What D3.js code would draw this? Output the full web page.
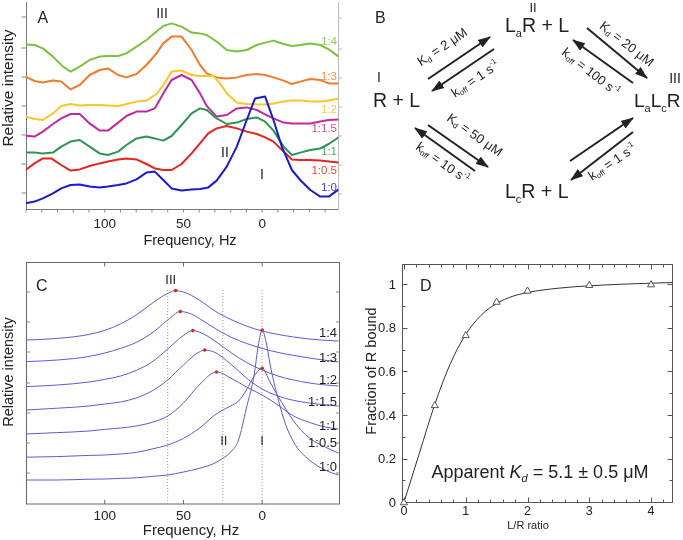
<!DOCTYPE html>
<html><head><meta charset="utf-8">
<script src="https://cdn.jsdelivr.net/npm/d3@7"></script>
<style>
body{margin:0;background:#fff;}
svg{display:block;will-change:transform;}
text{font-family:"Liberation Sans",Arial,Helvetica,sans-serif;}
</style>
</head><body>
<svg id="chart" width="683" height="540"></svg>
<script>
// ---------------- DATA ----------------
const ratioLabels = ["1:4","1:3","1:2","1:1.5","1:1","1:0.5","1:0"];
const freqMajorTicks = [100, 50, 0];
const freqMinorTicks = [150,140,130,120,110,100,90,80,70,60,50,40,30,20,10,0,-10,-20,-30,-40];

// Panel A: measured spectra [frequency Hz, relative intensity]
const specA_1_4 = [[150.3,8.23],[144.6,8.20],[139.3,8.03],[132.9,7.62],[126.5,7.12],[121.7,6.87],[115.9,7.12],[109.6,7.45],[103.2,7.62],[97.9,7.65],[91.5,7.65],[86.2,7.78],[79.8,8.12],[73.5,8.45],[67.1,8.87],[62.8,9.15],[57.5,9.28],[51.2,9.12],[44.8,8.82],[39.5,8.78],[35.2,8.70],[28.9,8.37],[22.5,7.95],[16.1,7.87],[9.8,7.95],[3.4,8.20],[-1.9,8.32],[-7.2,8.42],[-13.6,8.25],[-18.9,8.15],[-24.2,8.20],[-30.6,8.28],[-36.9,8.20],[-42.3,7.98],[-48.6,7.62]];
const specA_1_3 = [[150.3,6.62],[144.6,6.40],[139.3,6.32],[132.9,6.42],[127.6,6.37],[121.7,5.98],[115.9,6.20],[109.6,6.70],[103.2,6.95],[97.9,7.03],[91.5,6.70],[86.2,6.58],[79.8,6.75],[73.5,7.20],[67.1,7.78],[62.8,8.28],[57.5,8.62],[51.2,8.62],[44.8,7.95],[39.5,7.20],[35.2,6.78],[28.9,6.58],[22.5,6.53],[16.1,6.58],[9.8,6.70],[3.4,6.75],[-1.9,6.70],[-7.2,6.58],[-13.6,6.42],[-18.9,6.25],[-24.2,6.37],[-30.6,6.50],[-36.9,6.45],[-42.3,6.28],[-48.6,6.28]];
const specA_1_2 = [[150.3,4.62],[144.6,4.50],[139.3,4.45],[132.9,4.78],[127.6,5.15],[121.7,5.25],[115.9,5.18],[109.6,5.20],[103.2,5.20],[97.9,5.18],[91.5,5.15],[86.2,5.25],[79.8,5.37],[73.5,5.42],[67.1,5.75],[62.8,6.20],[57.5,6.87],[51.2,6.92],[44.8,6.70],[39.5,6.65],[35.2,6.65],[31.0,6.65],[26.8,6.28],[22.5,5.78],[16.1,5.32],[9.8,5.25],[3.4,5.23],[-1.9,5.23],[-7.2,5.28],[-13.6,5.37],[-18.9,5.42],[-24.2,5.42],[-30.6,5.37],[-36.9,5.37],[-42.3,5.42],[-48.6,5.53]];
const specA_1_15 = [[150.3,3.67],[144.6,3.62],[139.3,3.87],[132.9,4.25],[127.6,4.53],[121.7,4.75],[115.9,4.75],[109.6,4.28],[103.2,3.92],[97.9,3.92],[91.5,4.32],[86.2,4.65],[79.8,4.87],[73.5,4.87],[68.2,5.03],[62.8,5.78],[57.5,6.45],[51.2,6.70],[44.8,6.45],[39.5,5.78],[35.2,5.15],[28.9,4.62],[22.5,4.70],[16.1,5.03],[9.8,5.08],[3.4,4.95],[-1.9,4.73],[-7.2,4.53],[-13.6,4.32],[-18.9,4.28],[-24.2,4.28],[-30.6,4.28],[-36.9,4.37],[-42.3,4.45],[-48.6,4.48]];
const specA_1_1 = [[150.3,2.83],[144.6,2.82],[139.3,2.78],[132.9,2.82],[127.6,3.12],[121.7,3.37],[115.9,3.45],[109.6,3.12],[103.2,2.78],[97.9,2.70],[91.5,2.87],[86.2,3.20],[79.8,3.53],[73.5,3.62],[68.2,3.53],[62.8,3.42],[57.5,3.65],[51.2,4.20],[44.8,4.78],[39.5,5.03],[35.2,4.95],[28.9,4.53],[22.5,4.25],[16.1,4.32],[9.8,4.50],[3.4,4.58],[-1.9,4.37],[-7.2,3.92],[-13.6,3.12],[-18.9,2.70],[-24.2,2.82],[-30.6,2.95],[-36.9,3.03],[-42.3,3.25],[-48.6,3.58]];
const specA_1_05 = [[150.3,1.95],[144.6,2.28],[139.3,2.53],[134.0,2.53],[127.6,2.20],[121.7,1.92],[115.9,1.98],[109.6,2.15],[103.2,2.28],[97.9,2.37],[91.5,2.48],[86.2,2.53],[79.8,2.48],[73.5,2.25],[68.2,2.03],[62.8,1.95],[57.5,1.95],[51.2,2.25],[44.8,2.78],[39.5,3.28],[34.2,3.78],[28.9,4.03],[22.5,4.15],[16.1,4.03],[9.8,3.87],[3.4,3.75],[-1.9,3.58],[-7.2,3.37],[-13.6,2.87],[-18.9,2.48],[-24.2,2.45],[-30.6,2.45],[-36.9,2.42],[-42.3,2.37],[-48.6,2.32]];
const specA_1_0 = [[150.3,0.28],[144.6,0.37],[139.3,0.53],[132.9,0.78],[127.6,1.03],[121.7,1.20],[115.9,1.23],[109.6,1.12],[103.2,1.08],[97.9,1.12],[91.5,1.20],[86.2,1.28],[79.8,1.48],[73.5,1.82],[68.2,1.87],[62.8,1.45],[57.5,1.03],[51.2,0.92],[44.8,0.98],[39.5,1.00],[34.2,1.08],[28.9,1.42],[22.5,2.12],[16.1,3.12],[9.8,4.45],[4.5,5.53],[-1.9,5.62],[-7.2,4.45],[-12.5,3.12],[-18.9,1.95],[-24.2,1.45],[-30.6,0.95],[-36.9,0.62],[-42.3,0.62],[-48.6,0.98]];
const seriesA = [specA_1_4, specA_1_3, specA_1_2, specA_1_15, specA_1_1, specA_1_05, specA_1_0];

// Panel C: simulated line shapes [frequency Hz, relative intensity]
const specC_1_4 = [[150,8.20],[130,8.28],[110,8.48],[100,8.68],[90,9.00],[80,9.45],[70,10.03],[60,10.53],[55,10.67],[50,10.60],[40,10.20],[35,9.93],[30,9.65],[20,9.23],[10,8.90],[0,8.65],[-10,8.48],[-20,8.35],[-30,8.25],[-48.5,8.15]];
const specC_1_3 = [[150,7.12],[130,7.20],[110,7.38],[100,7.55],[90,7.78],[80,8.08],[70,8.55],[60,9.20],[52,9.62],[45,9.50],[40,9.28],[30,8.78],[20,8.35],[10,8.03],[0,7.78],[-10,7.58],[-20,7.43],[-30,7.30],[-48.5,7.10]];
const specC_1_2 = [[150,5.87],[130,5.95],[110,6.10],[100,6.23],[90,6.40],[80,6.68],[70,7.10],[60,7.75],[50,8.43],[44,8.67],[40,8.60],[30,8.15],[20,7.58],[10,7.08],[0,6.70],[-10,6.40],[-20,6.20],[-30,6.05],[-48.5,5.90]];
const specC_1_15 = [[150,4.70],[130,4.79],[110,4.90],[100,5.00],[90,5.10],[80,5.30],[70,5.65],[60,6.20],[50,6.95],[40,7.60],[36.5,7.70],[30,7.58],[20,7.00],[10,6.30],[0,5.75],[-10,5.40],[-20,5.18],[-30,5.05],[-48.5,4.90]];
const specC_1_1 = [[150,3.50],[130,3.57],[110,3.65],[100,3.73],[90,3.80],[80,3.90],[70,4.08],[60,4.40],[50,5.05],[40,5.95],[29,6.60],[20,6.30],[10,5.85],[0,5.45],[-10,4.95],[-20,4.40],[-30,4.08],[-40,3.85],[-48.5,3.75]];
const specC_1_05 = [[150,2.34],[130,2.37],[110,2.43],[100,2.45],[90,2.50],[80,2.58],[70,2.75],[60,2.95],[50,3.28],[40,3.78],[30,4.45],[25,4.70],[20,4.90],[15,5.15],[10,5.70],[5,6.40],[0,6.79],[-5,6.10],[-10,5.40],[-15,4.75],[-20,4.15],[-30,3.30],[-40,2.85],[-48.5,2.55]];
const specC_1_0 = [[150,1.20],[130,1.20],[110,1.24],[100,1.25],[90,1.28],[80,1.31],[70,1.38],[60,1.45],[50,1.60],[40,1.78],[30,2.05],[25,2.28],[20,2.60],[15,3.20],[10,4.80],[5,6.50],[2.5,7.90],[0,8.70],[-2.5,8.10],[-5,7.00],[-10,5.30],[-15,3.95],[-20,3.10],[-30,2.20],[-40,1.70],[-48.5,1.45]];
const seriesC = [specC_1_4, specC_1_3, specC_1_2, specC_1_15, specC_1_1, specC_1_05, specC_1_0];
const peakHzC = [55, 52, 44, 36.5, 29, 0, 0];
const peakIntC = [10.67, 9.62, 8.67, 7.70, 6.60, 6.79, 8.70];
const exchangeSitesHz = [60, 25, 0];
const siteLabels = ["III", "II", "I"];

// Panel D: titration
const ratioLR = [0, 0.5, 1, 1.5, 2, 3, 4];
const fractionBound = [0, 0.446, 0.767, 0.92, 0.971, 0.997, 1.0];
const fitRatio = [0, 0.25, 0.5, 0.75, 1, 1.25, 1.5, 1.75, 2, 2.5, 3, 3.5, 4, 4.35];
const fitFraction = [0, 0.225, 0.45, 0.635, 0.77, 0.858, 0.912, 0.944, 0.962, 0.982, 0.993, 1.0, 1.005, 1.008];
const dTicksX = [0, 1, 2, 3, 4];
const dTicksY = [0, 0.2, 0.4, 0.6, 0.8, 1];

// ---------------- STYLE / LAYOUT ----------------
const colorsA = ["#7cc242","#f07d2b","#fcc52a","#c12a9e","#2e9455","#e1251f","#1b1bcc"];
const labelBaseA = [44.5, 80, 113, 131.5, 155, 174, 190.5];
const labelBaseC = [336.5, 361.5, 384, 406, 429.5, 446.5, 470.5];

const svg = d3.select("#chart");
svg.append("rect").attr("width",683).attr("height",540).attr("fill","#fff");

const xF = d3.scaleLinear().domain([150,-48.5]).range([26,338.5]);

// ======== PANEL A ========
const yA = d3.scaleLinear().domain([0,10.35]).range([209,2]);
const gA = svg.append("g");
svg.append("clipPath").attr("id","clipA").append("rect").attr("x",26).attr("y",0).attr("width",312.5).attr("height",209);
svg.append("clipPath").attr("id","clipC").append("rect").attr("x",26).attr("y",262).attr("width",314).attr("height",242);

const aTicks = [0.8, 2.25, 3.7, 5.15, 6.6, 8.05, 9.6];
gA.selectAll(".ltA").data(aTicks).join("line")
  .attr("x1",21.5).attr("x2",26.5).attr("y1",d=>yA(d)).attr("y2",d=>yA(d)).attr("stroke","#888").attr("stroke-width",1);
gA.selectAll(".rtA").data(aTicks).join("line")
  .attr("x1",338.5).attr("x2",342).attr("y1",d=>yA(d)+1).attr("y2",d=>yA(d)+1).attr("stroke","#bbb").attr("stroke-width",1);
gA.append("line").attr("x1",338.5).attr("x2",338.5).attr("y1",2).attr("y2",209).attr("stroke","#bbb");
gA.append("line").attr("x1",26.5).attr("x2",26.5).attr("y1",2).attr("y2",209.5).attr("stroke","#777");
gA.append("line").attr("x1",26).attr("x2",338.5).attr("y1",209.5).attr("y2",209.5).attr("stroke","#777");
gA.selectAll(".mtA").data(freqMinorTicks).join("line")
  .attr("x1",d=>xF(d)).attr("x2",d=>xF(d)).attr("y1",209.5).attr("y2",212.5).attr("stroke","#888");
gA.selectAll(".tlA").data(freqMajorTicks).join("text")
  .attr("x",d=>xF(d)).attr("y",228).attr("text-anchor","middle").attr("font-size",13.5).attr("fill","#222").text(d=>d);
gA.append("text").attr("x",190).attr("y",244.5).attr("text-anchor","middle").attr("font-size",14.5).attr("fill","#222").text("Frequency, Hz");
gA.append("text").attr("transform","translate(13,88) rotate(-90)").attr("text-anchor","middle").attr("font-size",15.5).attr("fill","#222").text("Relative intensity");

const lineA = d3.line().x(d=>xF(d[0])).y(d=>yA(d[1]));
gA.append("g").attr("clip-path","url(#clipA)").selectAll("path").data(seriesA).join("path")
  .attr("d",lineA).attr("fill","none").attr("stroke",(d,i)=>colorsA[i]).attr("stroke-width",2).attr("stroke-linejoin","round");
gA.selectAll(".labA").data(ratioLabels).join("text")
  .attr("x",337).attr("y",(d,i)=>labelBaseA[i]).attr("text-anchor","end").attr("font-size",11.5)
  .attr("fill",(d,i)=>colorsA[i]).attr("opacity",0.85).text(d=>d);
gA.append("text").attr("x",37.5).attr("y",23).attr("font-size",16).attr("fill","#222").text("A");
gA.append("text").attr("x",162).attr("y",18).attr("text-anchor","middle").attr("font-size",14).attr("fill","#222").text("III");
gA.append("text").attr("x",225).attr("y",157).attr("text-anchor","middle").attr("font-size",14).attr("fill","#222").text("II");
gA.append("text").attr("x",262).attr("y",179).attr("text-anchor","middle").attr("font-size",14).attr("fill","#222").text("I");

// ======== PANEL C ========
const yC = d3.scaleLinear().domain([0,12.1]).range([504,262]);
const gC = svg.append("g");
gC.append("rect").attr("x",26.5).attr("y",262.5).attr("width",313).attr("height",241.5).attr("fill","none").attr("stroke","#666");
const cTicks = [10.6, 9.1, 7.6, 6.05, 4.55, 3.05, 1.55];
gC.selectAll(".ltC").data(cTicks).join("line").attr("x1",26.5).attr("x2",30).attr("y1",d=>yC(d)).attr("y2",d=>yC(d)).attr("stroke","#888");
gC.selectAll(".rtC").data(cTicks).join("line").attr("x1",336).attr("x2",339.5).attr("y1",d=>yC(d)).attr("y2",d=>yC(d)).attr("stroke","#888");
gC.selectAll(".btC").data(freqMajorTicks).join("line").attr("x1",d=>xF(d)).attr("x2",d=>xF(d)).attr("y1",504).attr("y2",500).attr("stroke","#666");
gC.selectAll(".ttC").data(freqMajorTicks).join("line").attr("x1",d=>xF(d)).attr("x2",d=>xF(d)).attr("y1",262.5).attr("y2",266.5).attr("stroke","#666");
gC.selectAll(".tlC").data(freqMajorTicks).join("text")
  .attr("x",d=>xF(d)).attr("y",519.5).attr("text-anchor","middle").attr("font-size",13.5).attr("fill","#222").text(d=>d);
gC.append("text").attr("x",191).attr("y",535).attr("text-anchor","middle").attr("font-size",15).attr("fill","#222").text("Frequency, Hz");
gC.append("text").attr("transform","translate(13,372) rotate(-90)").attr("text-anchor","middle").attr("font-size",14.5).attr("fill","#222").text("Relative intensity");
gC.selectAll(".dl").data(exchangeSitesHz).join("line")
  .attr("x1",d=>xF(d)).attr("x2",d=>xF(d)).attr("y1",yC(10.7)).attr("y2",504)
  .attr("stroke","#999").attr("stroke-width",1).attr("stroke-dasharray","1,2");
const lineC = d3.line().x(d=>xF(d[0])).y(d=>yC(d[1])).curve(d3.curveMonotoneX);
gC.append("g").attr("clip-path","url(#clipC)").selectAll("path").data(seriesC).join("path")
  .attr("d",lineC).attr("fill","none").attr("stroke","#5c5cd2").attr("stroke-width",1);
gC.selectAll(".pk").data(peakHzC).join("circle")
  .attr("cx",d=>xF(d)).attr("cy",(d,i)=>yC(peakIntC[i])).attr("r",1.8).attr("fill","#e02222");
gC.selectAll(".labC").data(ratioLabels).join("text")
  .attr("x",337).attr("y",(d,i)=>labelBaseC[i]).attr("text-anchor","end").attr("font-size",13).attr("fill","#222").text(d=>d);
gC.append("text").attr("x",36).attr("y",291).attr("font-size",16).attr("fill","#222").text("C");
gC.append("text").attr("x",xF(exchangeSitesHz[0])+3).attr("y",284).attr("text-anchor","middle").attr("font-size",13).attr("fill","#222").text(siteLabels[0]);
gC.append("text").attr("x",xF(exchangeSitesHz[1])+1).attr("y",445).attr("text-anchor","middle").attr("font-size",13).attr("fill","#222").text(siteLabels[1]);
gC.append("text").attr("x",xF(exchangeSitesHz[2])).attr("y",445).attr("text-anchor","middle").attr("font-size",13).attr("fill","#222").text(siteLabels[2]);

// ======== PANEL D ========
const xD = d3.scaleLinear().domain([-0.02,4.35]).range([402.7,672.7]);
const yD = d3.scaleLinear().domain([0,1.093]).range([502.3,264]);
const gD = svg.append("g");
gD.append("rect").attr("x",402.5).attr("y",264.5).attr("width",270).attr("height",238).attr("fill","none").attr("stroke","#555");
const dMinorX = [0.2,0.4,0.6,0.8,1.2,1.4,1.6,1.8,2.2,2.4,2.6,2.8,3.2,3.4,3.6,3.8,4.2];
const dMinorY = [0.1,0.3,0.5,0.7,0.9];
function vt(sel, vals, len){
  sel.selectAll(null).data(vals).join("line").attr("x1",d=>Math.round(xD(d))+0.5).attr("x2",d=>Math.round(xD(d))+0.5).attr("y1",502.5).attr("y2",502.5-len).attr("stroke","#555");
  sel.selectAll(null).data(vals).join("line").attr("x1",d=>Math.round(xD(d))+0.5).attr("x2",d=>Math.round(xD(d))+0.5).attr("y1",264.5).attr("y2",264.5+len).attr("stroke","#555");
}
function ht(sel, vals, len){
  sel.selectAll(null).data(vals).join("line").attr("y1",d=>Math.round(yD(d))+0.5).attr("y2",d=>Math.round(yD(d))+0.5).attr("x1",402.5).attr("x2",402.5+len).attr("stroke","#555");
  sel.selectAll(null).data(vals).join("line").attr("y1",d=>Math.round(yD(d))+0.5).attr("y2",d=>Math.round(yD(d))+0.5).attr("x1",672.5).attr("x2",672.5-len).attr("stroke","#555");
}
vt(gD, dTicksX, 5); vt(gD, dMinorX, 3);
ht(gD, dTicksY, 5); ht(gD, dMinorY, 3);
gD.selectAll(".xl").data(dTicksX).join("text").attr("x",d=>xD(d)).attr("y",515).attr("text-anchor","middle").attr("font-size",12.5).attr("fill","#222").text(d=>d);
gD.selectAll(".yl").data(dTicksY).join("text").attr("x",396).attr("y",d=>yD(d)+4.5).attr("text-anchor","end").attr("font-size",13).attr("fill","#222").text(d=>d);
gD.append("text").attr("x",528).attr("y",528.5).attr("text-anchor","middle").attr("font-size",11).attr("fill","#222").text("L/R ratio");
gD.append("text").attr("transform","translate(376,371) rotate(-90)").attr("text-anchor","middle").attr("font-size",14.5).attr("fill","#222").text("Fraction of R bound");
const fitPts = fitRatio.map((r,i)=>[r, fitFraction[i]]);
gD.append("path").datum(fitPts).attr("d",d3.line().x(d=>xD(d[0])).y(d=>yD(d[1])).curve(d3.curveMonotoneX))
  .attr("fill","none").attr("stroke","#333").attr("stroke-width",1);
const tri = d3.symbol().type(d3.symbolTriangle).size(22);
gD.selectAll(".pt").data(ratioLR).join("path").attr("d",tri)
  .attr("transform",(d,i)=>`translate(${xD(d)},${yD(fractionBound[i])+0.5})`)
  .attr("fill","#fff").attr("stroke","#444").attr("stroke-width",0.9);
gD.append("text").attr("x",420).attr("y",291).attr("font-size",16).attr("fill","#222").text("D");
const kd = gD.append("text").attr("x",431.5).attr("y",478).attr("font-size",18).attr("fill","#222");
kd.append("tspan").text("Apparent ");
kd.append("tspan").attr("font-style","italic").text("K");
kd.append("tspan").attr("font-style","italic").attr("font-size",11).attr("dy",4).text("d");
kd.append("tspan").attr("dy",-4).text(" = 5.1 ± 0.5 μM");

// ======== PANEL B (scheme) ========
const gB = svg.append("g");
const defs = svg.append("defs");
defs.append("marker").attr("id","ah").attr("markerUnits","userSpaceOnUse")
  .attr("markerWidth",13).attr("markerHeight",10).attr("refX",12).attr("refY",5).attr("orient","auto")
  .append("path").attr("d","M0,0.5 L13,5 L0,9.5 Z").attr("fill","#222");
const arrows = [
  [428,79,490,37],[494,49,432,91],
  [587,28,647,78],[633,83,573,40],
  [428,125,488,167],[475,171,415,128],
  [570,161,633,118],[633,132,571,180]
];
gB.selectAll("line.ar").data(arrows).join("line").attr("class","ar")
  .attr("x1",d=>d[0]).attr("y1",d=>d[1]).attr("x2",d=>d[2]).attr("y2",d=>d[3])
  .attr("stroke","#222").attr("stroke-width",2).attr("marker-end","url(#ah)");

function species(x, y, parts, fs){
  const t = gB.append("text").attr("x",x).attr("y",y).attr("font-size",fs||19.5).attr("fill","#222");
  parts.forEach(p=>{
    if(p[1]) t.append("tspan").attr("font-size",11).attr("dy",5).text(p[0]);
    else t.append("tspan").attr("dy",p[2]||0).text(p[0]);
  });
  return t;
}
species(505,31.5,[["L",0],["a",1],["R + L",0,-5]]);
species(373,107,[["R + L",0]]);
species(634,107,[["L",0],["a",1],["L",0,-5],["c",1],["R",0,-5]],19);
species(505,198,[["L",0],["c",1],["R + L",0,-5]]);
gB.append("text").attr("x",375).attr("y",22.5).attr("font-size",16).attr("fill","#222").text("B");
gB.append("text").attr("x",379).attr("y",82).attr("text-anchor","middle").attr("font-size",14).attr("fill","#222").text("I");
gB.append("text").attr("x",533).attr("y",12).attr("text-anchor","middle").attr("font-size",13).attr("fill","#222").text("II");
gB.append("text").attr("x",675).attr("y",83).attr("text-anchor","middle").attr("font-size",14).attr("fill","#222").text("III");

function rate(cx, cy, ang, kind, val){
  const t = gB.append("text").attr("transform",`translate(${cx},${cy}) rotate(${ang})`)
    .attr("text-anchor","middle").attr("dominant-baseline","middle").attr("font-size",13).attr("fill","#222");
  if(kind==="K"){
    t.append("tspan").text("K");
    t.append("tspan").attr("font-size",8).attr("dy",3).text("d");
    t.append("tspan").attr("dy",-3).text(" = " + val + " μM");
  } else {
    t.append("tspan").text("k");
    t.append("tspan").attr("font-size",8).attr("dy",3).text("off");
    t.append("tspan").attr("dy",-3).text(" = " + val + " s");
    t.append("tspan").attr("font-size",8).attr("dy",-5).text("-1");
  }
}
rate(443,48,-34,"K","2");
rate(476,80,-34,"k","1");
rate(626,45,38,"K","20");
rate(590,73,38,"k","100");
rate(474,136,35,"K","50");
rate(442,164,35,"k","10");
rate(613,163,-34,"k","1");
</script>
</body></html>
